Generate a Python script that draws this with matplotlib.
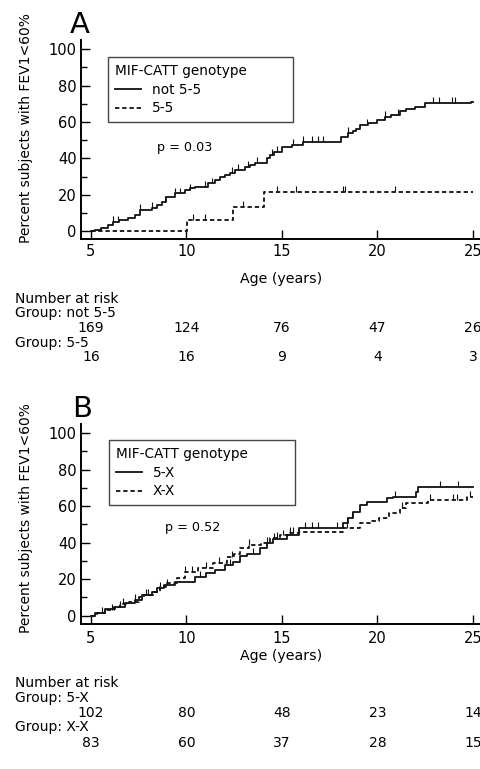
import matplotlib
matplotlib.use("Agg")
import matplotlib.pyplot as plt
import matplotlib.transforms as mtransforms
import numpy as np

plt.rcParams["font.family"] = ["DejaVu Sans"]
plt.rcParams["font.size"] = 10

# ---- panel A: MIF-CATT not 5-5 vs 5-5 ----
A_SOLID_T = [5.2, 5.55, 5.9, 6.15, 6.45, 6.95, 7.3, 7.55, 8.2, 8.45, 8.7, 8.95, 9.4, 9.9, 10.2,
             10.45, 11.15, 11.5, 11.75, 12.0, 12.3, 12.55, 13.05, 13.35, 13.6, 14.2, 14.4,
             14.6, 15.0, 15.55, 16.1, 18.1, 18.45, 18.7, 18.9, 19.1, 19.5, 19.95, 20.4, 20.7,
             21.2, 21.5, 21.95, 22.5, 24.9]
A_SOLID_V = [0.5, 1.5, 3.3, 5.0, 6.0, 7.0, 9.0, 11.6, 12.5, 14.5, 16.1, 18.9, 20.7, 22.6, 23.5,
             24.4, 26.2, 28.1, 29.5, 30.8, 32.2, 33.6, 35.4, 36.3, 37.3, 40.0, 42.0,
             43.6, 46.0, 47.3, 49.2, 51.9, 53.8, 55.0, 56.0, 58.5, 59.3, 61.1, 63.0, 64.0,
             66.2, 67.0, 68.5, 70.3, 71.2]
A_SOLID_CENS = [6.15, 6.41, 7.57, 8.2, 8.87, 9.4, 9.66, 10.18, 10.97, 11.33, 12.38, 12.7, 13.2,
                13.7, 14.48, 14.74, 15.58, 16.1, 16.57, 16.9, 17.15, 18.46, 19.45, 20.4, 21.1,
                22.9, 23.2, 23.9, 24.06]
A_DASH_T = [10.02, 12.45, 14.05]
A_DASH_V = [6.25, 13.3, 21.4]
A_DASH_CENS = [10.36, 10.97, 12.98, 14.73, 15.74, 18.19, 18.3, 20.93]

# ---- panel B: MIF-CATT 5-X vs X-X ----
B_SOLID_T = [5.2, 5.75, 6.25, 6.8, 7.3, 7.65, 8.2, 8.45, 8.85, 9.4, 10.45, 11.0, 11.5, 12.0,
             12.45, 12.8, 13.15, 13.85, 14.2, 14.55, 15.25, 15.9, 18.2, 18.45, 18.7, 19.1,
             19.45, 20.5, 20.8, 22.0, 22.1]
B_SOLID_V = [1.6, 3.5, 4.9, 6.8, 8.6, 11.3, 13.2, 15.0, 16.8, 18.6, 21.4, 23.2, 25.1, 27.8,
             29.5, 32.5, 34.0, 37.0, 39.7, 42.0, 44.0, 47.9, 50.6, 53.4, 57.0, 60.7, 62.5,
             64.4, 65.2, 68.0, 70.7]
B_SOLID_CENS = [5.6, 6.5, 7.3, 8.0, 9.0, 10.7, 12.3, 13.5, 14.6, 15.4, 16.2, 16.55, 16.9,
                17.86, 18.39, 18.65, 20.9, 23.27, 24.23]
B_DASH_T = [5.3, 5.75, 6.2, 6.5, 7.0, 7.5, 7.8, 8.3, 8.6, 8.95, 9.5, 9.9, 10.6, 11.4, 12.1,
            12.5, 12.8, 13.3, 13.9, 14.4, 14.9, 15.4, 15.9, 18.2, 19.1, 19.7, 20.1, 20.6,
            21.2, 21.5, 22.65, 24.7]
B_DASH_V = [1.5, 3.0, 4.5, 6.5, 7.5, 10.0, 11.5, 13.0, 15.5, 17.7, 20.5, 24.0, 26.0, 28.7,
            32.0, 34.0, 37.0, 38.8, 40.0, 42.4, 44.0, 45.2, 46.1, 47.9, 50.6, 52.0, 53.4,
            56.1, 58.9, 61.6, 63.4, 65.2]
B_DASH_CENS = [6.1, 6.7, 7.9, 8.6, 9.9, 10.3, 11.0, 11.7, 12.4, 13.3, 14.2, 14.72, 15.07,
               15.42, 15.59, 18.39, 21.27, 22.75, 23.97, 24.15, 24.84]

RISK_AGES = [5, 10, 15, 20, 25]
RISK_A = {"not 5-5": [169, 124, 76, 47, 26], "5-5": [16, 16, 9, 4, 3]}
RISK_B = {"5-X": [102, 80, 48, 23, 14], "X-X": [83, 60, 37, 28, 15]}

DASH = (0, (2.4, 1.6))
W, H = 481, 769


def km_xy(times, values, t_end=25.0):
    x = [5.0] + list(times) + [t_end]
    y = [0.0] + list(values) + [values[-1]]
    return x, y


def value_at(times, values, t):
    i = np.searchsorted(times, t, side="right") - 1
    return np.where(i < 0, 0.0, np.asarray(values)[np.clip(i, 0, None)])


def draw_km(ax, times, values, cens, ls, label):
    x, y = km_xy(times, values)
    ax.step(x, y, where="post", color="#111111", lw=1.3, ls=ls, label=label)
    cy = value_at(times, values, np.array(cens))
    ax.vlines(cens, cy, cy + 3.2, color="#111111", lw=0.8)


def style_axes(ax):
    ax.set_xlim(4.48, 25.42)
    ax.set_ylim(-4.5, 105)
    for s in ("top", "right"):
        ax.spines[s].set_visible(False)
    for s in ("left", "bottom"):
        ax.spines[s].set_linewidth(1.4)
    ax.set_xticks(RISK_AGES)
    ax.set_yticks([0, 20, 40, 60, 80, 100])
    ax.set_yticks([10, 30, 50, 70, 90], minor=True)
    ax.tick_params(axis="both", which="major", direction="in", length=6.5, width=1.0,
                   labelsize=10.5)
    ax.tick_params(axis="y", which="minor", direction="in", length=4.3, width=1.0)
    ax.tick_params(axis="y", pad=3)
    ax.set_ylabel("Percent subjects with FEV1<60%", fontsize=10)


def risk_table(fig, ax, groups, rows_px):
    tr = mtransforms.blended_transform_factory(ax.transData, fig.transFigure)
    fy = lambda py: 1 - py / H
    fig.text(15 / W, fy(rows_px[0]), "Number at risk", va="center", ha="left", fontsize=10)
    for k, (name, counts) in enumerate(groups.items()):
        fig.text(15 / W, fy(rows_px[1 + 2 * k]), f"Group: {name}", va="center", ha="left",
                 fontsize=10)
        for age, n in zip(RISK_AGES, counts):
            ax.text(age, fy(rows_px[2 + 2 * k]), str(n), transform=tr, ha="center",
                    va="center", fontsize=10)


def add_legend(ax, anchor):
    leg = ax.legend(title="MIF-CATT genotype", loc="upper left", mode="expand",
                    bbox_to_anchor=anchor, borderaxespad=0, fancybox=False,
                    edgecolor="#444444", framealpha=1, fontsize=9.8, title_fontsize=9.8,
                    handlelength=1.9, handletextpad=0.8, labelspacing=0.35,
                    borderpad=0.5)
    leg._legend_box.align = "left"
    leg.get_frame().set_linewidth(1.0)


fig = plt.figure(figsize=(W / 100, H / 100), dpi=100)

axA = fig.add_axes([81 / W, 1 - 239.2 / H, 400 / W, 199 / H])
draw_km(axA, A_SOLID_T, A_SOLID_V, A_SOLID_CENS, "-", "not 5-5")
draw_km(axA, A_DASH_T, A_DASH_V, A_DASH_CENS, DASH, "5-5")
style_axes(axA)
axA.tick_params(axis="x", pad=3.5)
axA.set_xlabel("Age (years)", fontsize=10.2)
axA.xaxis.set_label_coords(0.5, -0.165)
axA.yaxis.set_label_coords(-0.12, 0.56)
axA.text(8.45, 46.2, "p = 0.03", va="center", ha="left", fontsize=9.2)
add_legend(axA, (0.0675, 0.5, 0.4625, 0.4156))
fig.text(70 / W, 1 - 33 / H, "A", fontsize=21, ha="left", va="baseline")
risk_table(fig, axA, RISK_A, [299.3, 313.3, 328.3, 342.7, 357.3])

axB = fig.add_axes([81 / W, 1 - 623.9 / H, 400 / W, 199.9 / H])
draw_km(axB, B_SOLID_T, B_SOLID_V, B_SOLID_CENS, "-", "5-X")
draw_km(axB, B_DASH_T, B_DASH_V, B_DASH_CENS, DASH, "X-X")
style_axes(axB)
axB.tick_params(axis="x", pad=5)
axB.set_xlabel("Age (years)", fontsize=10.2)
axB.xaxis.set_label_coords(0.5, -0.125)
axB.yaxis.set_label_coords(-0.12, 0.53)
axB.text(8.87, 48.1, "p = 0.52", va="center", ha="left", fontsize=9.2)
add_legend(axB, (0.07, 0.5, 0.465, 0.42))
fig.text(72 / W, 1 - 417 / H, "B", fontsize=21, ha="left", va="baseline")
risk_table(fig, axB, RISK_B, [683.3, 697.7, 713.3, 727.3, 742.7])

fig.savefig("out.png", dpi=100)
